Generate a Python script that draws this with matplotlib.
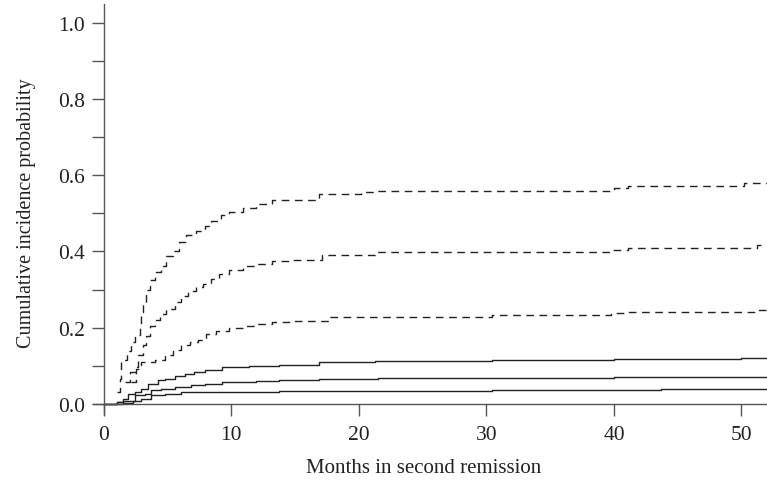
import matplotlib
matplotlib.use("Agg")
import matplotlib.pyplot as plt

# Upper curves (dashed)
dash_hi_t = [1.0, 1.25, 1.35, 1.8, 2.16, 2.42, 2.8, 2.95, 3.07, 3.28, 3.6, 3.98, 4.5, 4.9, 5.4, 5.9, 6.45, 7.2, 7.9, 8.4, 9.2, 9.8, 10.9, 11.9, 13.2, 16.9, 20.2, 21.3, 40.0, 41.1, 50.2, 52]
dash_hi_v = [0.03, 0.066, 0.114, 0.138, 0.163, 0.18, 0.21, 0.24, 0.265, 0.30, 0.324, 0.346, 0.363, 0.389, 0.402, 0.425, 0.442, 0.455, 0.468, 0.481, 0.496, 0.503, 0.514, 0.525, 0.535, 0.551, 0.556, 0.56, 0.567, 0.573, 0.58, 0.58]

dash_mid_t = [1.64, 2.03, 2.55, 2.68, 3.07, 3.3, 3.6, 3.98, 4.4, 4.9, 5.55, 6.07, 6.6, 7.2, 7.75, 8.4, 9.06, 9.8, 10.9, 11.9, 13.2, 14.5, 17.1, 21.3, 39.8, 41.1, 51.2, 52]
dash_mid_v = [0.057, 0.083, 0.096, 0.127, 0.153, 0.179, 0.205, 0.219, 0.236, 0.249, 0.267, 0.284, 0.297, 0.306, 0.315, 0.328, 0.341, 0.352, 0.362, 0.368, 0.376, 0.378, 0.391, 0.398, 0.404, 0.409, 0.417, 0.417]

dash_lo_t = [2.16, 2.55, 2.95, 3.98, 4.77, 5.4, 6.07, 6.72, 7.37, 8.0, 8.8, 9.8, 10.9, 11.9, 13.2, 14.5, 17.7, 30.4, 39.8, 40.9, 51.2, 52]
dash_lo_v = [0.057, 0.092, 0.109, 0.114, 0.127, 0.14, 0.153, 0.162, 0.168, 0.184, 0.192, 0.20, 0.205, 0.21, 0.215, 0.218, 0.229, 0.234, 0.238, 0.241, 0.247, 0.247]

# Lower curves (solid)
solid_hi_t = [0, 1.0, 1.5, 1.9, 2.42, 2.95, 3.46, 4.24, 4.77, 5.55, 6.33, 7.1, 7.9, 9.3, 11.4, 13.75, 16.9, 21.3, 30.4, 40.0, 50.0, 52]
solid_hi_v = [0, 0.005, 0.013, 0.026, 0.031, 0.039, 0.052, 0.061, 0.066, 0.072, 0.078, 0.083, 0.088, 0.097, 0.100, 0.103, 0.11, 0.113, 0.115, 0.117, 0.119, 0.119]

solid_mid_t = [0, 1.0, 1.5, 2.42, 3.2, 3.72, 4.5, 5.55, 6.85, 7.9, 9.3, 11.9, 13.75, 16.9, 21.5, 40.0, 50.0, 52]
solid_mid_v = [0, 0.004, 0.008, 0.022, 0.026, 0.035, 0.039, 0.044, 0.048, 0.051, 0.056, 0.060, 0.062, 0.066, 0.068, 0.069, 0.071, 0.071]

solid_lo_t = [0, 1.5, 2.3, 2.95, 3.72, 4.77, 6.07, 7.9, 13.75, 16.9, 30.4, 43.7, 52]
solid_lo_v = [0, 0.003, 0.008, 0.013, 0.022, 0.026, 0.031, 0.032, 0.033, 0.034, 0.037, 0.039, 0.039]

x_ticks = [0, 10, 20, 30, 40, 50]
y_ticks = [0.0, 0.2, 0.4, 0.6, 0.8, 1.0]
y_minor = [0.1, 0.3, 0.5, 0.7, 0.9]

plt.rcParams['font.family'] = ['Liberation Serif', 'DejaVu Serif']

W, H = 767, 485
fig = plt.figure(figsize=(W / 100, H / 100), dpi=100)
ax = fig.add_axes([93 / W, 70 / H, (W - 93) / W, (H - 70 - 5) / H])

col = '#222222'
lw = 1.0
for t, v in [(dash_hi_t, dash_hi_v), (dash_mid_t, dash_mid_v), (dash_lo_t, dash_lo_v)]:
    ax.plot(t, v, drawstyle='steps-post', color=col, lw=lw, linestyle=(0, (5.5, 4)))
for t, v in [(solid_hi_t, solid_hi_v), (solid_mid_t, solid_mid_v), (solid_lo_t, solid_lo_v)]:
    ax.plot(t, v, drawstyle='steps-post', color=col, lw=lw)

ax.set_xlim(-0.85, 52)
ax.set_ylim(-0.027, 1.05)
ax.spines['left'].set_position(('data', 0))
ax.spines['bottom'].set_position(('data', 0))
ax.spines['top'].set_visible(False)
ax.spines['right'].set_visible(False)
axis_col = '#555555'
for s in ('left', 'bottom'):
    ax.spines[s].set_color(axis_col)
    ax.spines[s].set_linewidth(1.0)

ax.set_xticks(x_ticks)
ax.set_xticklabels([str(x) for x in x_ticks])
ax.set_yticks(y_ticks)
ax.set_yticklabels([f"{y:.1f}" for y in y_ticks])
ax.set_yticks(y_minor, minor=True)
ax.tick_params(axis='both', which='both', direction='out', color=axis_col, width=1.0, length=8.5)
ax.tick_params(axis='both', which='major', labelsize=15.5, labelcolor='#222222')
ax.tick_params(axis='y', which='major', pad=5)
ax.tick_params(axis='x', which='major', pad=7)

ax.set_xlabel('Months in second remission', fontsize=15, color='#222222')
ax.set_ylabel('Cumulative incidence probability', fontsize=14.5, color='#222222')
ax.xaxis.set_label_coords(424 / W, 1 - 459 / H, transform=fig.transFigure)
ax.yaxis.set_label_coords(36 / W, 1 - 213 / H, transform=fig.transFigure)

fig.savefig('out.png', dpi=100)
